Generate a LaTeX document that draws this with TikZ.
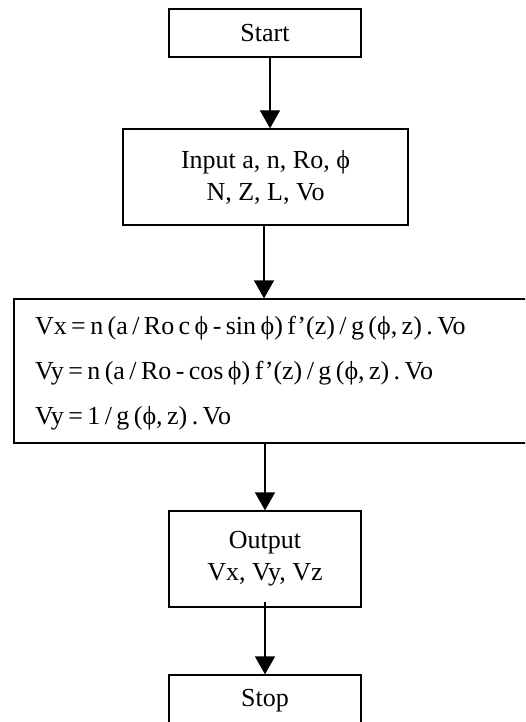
\documentclass[tikz,border=0pt]{standalone}
\usepackage{fontspec}
\setmainfont{Liberation Serif}
\usetikzlibrary{arrows.meta}
\frenchspacing
\newcommand\tightspaces{\spaceskip=0.17em plus 0.05em\relax}
\begin{document}
\begin{tikzpicture}[x=1pt,y=1pt,
  box/.style={draw, line width=1.3pt, font=\fontsize{26}{32}\selectfont, align=center, inner sep=0pt},
  arr/.style={line width=1.3pt, -{Triangle[length=18pt,width=20pt]}}]
\useasboundingbox (0,0) rectangle (525,-722);
\clip (0,0) rectangle (525,-722);
\node[box, minimum width=192pt, minimum height=48pt] (start) at (265,-33) {Start};
\node[box, minimum width=285pt, minimum height=96pt] (input) at (265.5,-177) {Input a, n, Ro, ϕ\\N, Z, L, Vo};
\node[box, minimum width=526pt, minimum height=144pt, text width=484pt, inner xsep=21pt, align=left,
  font=\fontsize{26}{45}\selectfont] (calc) at (277,-371)
  {\tightspaces\rule{0pt}{22pt}Vx = n (a / Ro c ϕ - sin ϕ) f’(z) / g (ϕ, z) . Vo\\
   Vy = n (a / Ro - cos ϕ) f’(z) / g (ϕ, z) . Vo\\
   Vy = 1 / g (ϕ, z) . Vo};
\node[box, minimum width=192pt, minimum height=96pt] (out) at (265,-559) {Output\\Vx, Vy, Vz};
\node[box, minimum width=192pt, minimum height=52pt] (stop) at (265,-701) {Stop};
\draw[arr] ([xshift=5pt]start.south) -- ([xshift=4.5pt]input.north);
\draw[arr] ([xshift=-1.5pt]input.south) -- ([xshift=-1.5pt]input.south |- calc.north);
\draw[arr] (calc.south -| out.north) -- (out.north);
\draw[arr] ([yshift=6pt]out.south) -- (stop.north);
\end{tikzpicture}
\end{document}
